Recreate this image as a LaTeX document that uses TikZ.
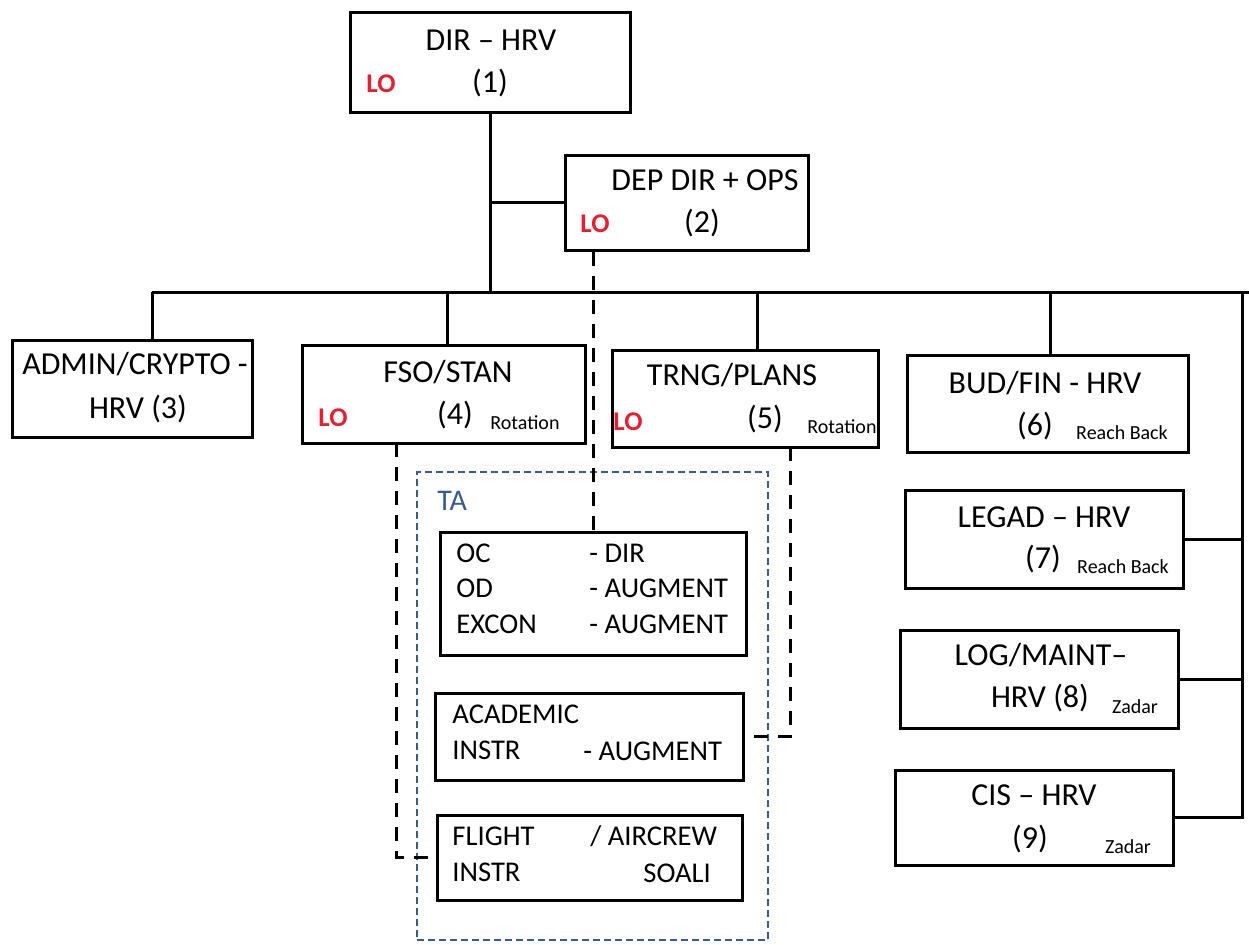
\documentclass[tikz,border=0pt]{standalone}
\usepackage{fontspec}
\setmainfont{Carlito}
\definecolor{loRed}{RGB}{228,32,48}
\definecolor{taBlue}{RGB}{58,92,138}

\begin{document}
\begin{tikzpicture}[x=0.5pt, y=-0.5pt,
	box/.style={draw, line width=1.5pt, inner sep=0pt},
	tabox/.style={draw=taBlue, line width=1.1pt, dash pattern=on 3.5pt off 2pt, inner sep=0pt},
	txt/.style={font=\fontsize{16}{18}\selectfont, text height=0.65em, text depth=0.12em, inner sep=0pt},
	ttxt/.style={font=\fontsize{14.3}{16}\selectfont, text height=0.65em, text depth=0.12em, inner sep=0pt, anchor=west},
	note/.style={font=\fontsize{10}{12}\selectfont, text height=0.65em, text depth=0.12em, inner sep=0pt},
	lo/.style={font=\fontsize{13.5}{15}\selectfont\bfseries, text=loRed, text height=0.65em, text depth=0.12em, inner sep=0pt},
	conn/.style={line width=1.5pt},
	dconn/.style={line width=1.5pt, dash pattern=on 7pt off 5pt}]
\useasboundingbox (0,0) rectangle (1249,944);

\node[box, minimum width=140pt, minimum height=50pt] (B1) at (490,62) {};
\node[box, minimum width=121.5pt, minimum height=47.5pt] (B2) at (686.5,202.5) {};
\node[box, minimum width=120pt, minimum height=48.5pt] (B3) at (132,388.5) {};
\node[box, minimum width=141.5pt, minimum height=49pt] (B4) at (443.5,394) {};
\node[box, minimum width=133pt, minimum height=48.5pt] (B5) at (745,398.5) {};
\node[box, minimum width=140.5pt, minimum height=48.5pt] (B6) at (1047.5,403.5) {};
\node[box, minimum width=139pt, minimum height=49pt] (B7) at (1044,539) {};
\node[box, minimum width=139pt, minimum height=49pt] (B8) at (1039,679) {};
\node[box, minimum width=139pt, minimum height=47.5pt] (B9) at (1034,817.5) {};

\node[tabox, minimum width=175.5pt, minimum height=234pt] (TA) at (592.5,706) {};
\node[box, minimum width=153pt, minimum height=61.5pt] (OC) at (593,593.5) {};
\node[box, minimum width=154pt, minimum height=43.5pt] (AC) at (589,736.5) {};
\node[box, minimum width=152.5pt, minimum height=42.5pt] (FL) at (589.5,857.5) {};

\node[txt] (B1a) at (491,45) {DIR – HRV};
\node[lo] (B1lo) at (381,87) {LO};
\node[txt] (B1b) at (490,87) {(1)};

\node[txt] (B2a) at (705,185) {DEP DIR + OPS};
\node[lo] (B2lo) at (595,227) {LO};
\node[txt] (B2b) at (702,227) {(2)};

\node[txt] (B3a) at (135,369) {ADMIN/CRYPTO -};
\node[txt] (B3b) at (138,413) {HRV (3)};

\node[txt] (B4a) at (448,377) {FSO/STAN};
\node[lo] (B4lo) at (333,421) {LO};
\node[txt] (B4b) at (455,419) {(4)};
\node[note] (B4c) at (525,424) {Rotation};

\node[txt] (B5a) at (732,380) {TRNG/PLANS};
\node[lo] (B5lo) at (628,425) {LO};
\node[txt] (B5b) at (765,423) {(5)};
\node[note] (B5c) at (842,428) {Rotation};

\node[txt] (B6a) at (1045,388) {BUD/FIN - HRV};
\node[txt] (B6b) at (1035,430) {(6)};
\node[note] (B6c) at (1122,434) {Reach Back};

\node[txt] (B7a) at (1044,522) {LEGAD – HRV};
\node[txt] (B7b) at (1043,563) {(7)};
\node[note] (B7c) at (1123,568) {Reach Back};

\node[txt] (B8a) at (1041,660) {LOG/MAINT–};
\node[txt] (B8b) at (1040,702) {HRV (8)};
\node[note] (B8c) at (1135,708) {Zadar};

\node[txt] (B9a) at (1034,800) {CIS – HRV};
\node[txt] (B9b) at (1030,843) {(9)};
\node[note] (B9c) at (1128,848) {Zadar};

\node[ttxt, font=\fontsize{15}{17}\selectfont, text=taBlue] (TAl) at (437,505) {TA};

\node[ttxt] (OC1) at (456,557) {OC};
\node[ttxt] (OC2) at (589,557) {- DIR};
\node[ttxt] (OC3) at (456,592) {OD};
\node[ttxt] (OC4) at (589,592) {- AUGMENT};
\node[ttxt] (OC5) at (456,628) {EXCON};
\node[ttxt] (OC6) at (589,628) {- AUGMENT};

\node[ttxt] (AC1) at (452,718) {ACADEMIC};
\node[ttxt] (AC2) at (452,754) {INSTR};
\node[ttxt] (AC3) at (583,755) {- AUGMENT};

\node[ttxt] (FL1) at (452,840) {FLIGHT};
\node[ttxt] (FL2) at (590,840) {/ AIRCREW};
\node[ttxt] (FL3) at (452,876) {INSTR};
\node[ttxt] (FL4) at (643,877) {SOALI};

\coordinate (busL) at (152,292);
\coordinate (busR) at (1249,292);
\coordinate (rail) at (1242,292);
\coordinate (drop4) at (447,292);
\coordinate (drop5) at (757,292);
\coordinate (drop6) at (1050,292);
\coordinate (fso) at (396,443);
\coordinate (trng) at (790,447);

\draw[conn] (B1.south) -- (B1.south |- busL);
\draw[conn] (B1.south |- B2.west) -- (B2.west);
\draw[conn] (busL) -- (busR);
\draw[conn] (busL) -- (busL |- B3.north);
\draw[conn] (drop4) -- (drop4 |- B4.north);
\draw[conn] (drop5) -- (drop5 |- B5.north);
\draw[conn] (drop6) -- (drop6 |- B6.north);
\draw[conn] (rail) |- (B9.east);
\draw[conn] (B7.east) -- (B7.east -| rail);
\draw[conn] (B8.east) -- (B8.east -| rail);

\draw[dconn] (OC.north |- B2.south) -- (OC.north);
\draw[dconn] (fso) |- (FL.west);
\draw[dconn] (trng) |- (AC.east);
\end{tikzpicture}
\end{document}
